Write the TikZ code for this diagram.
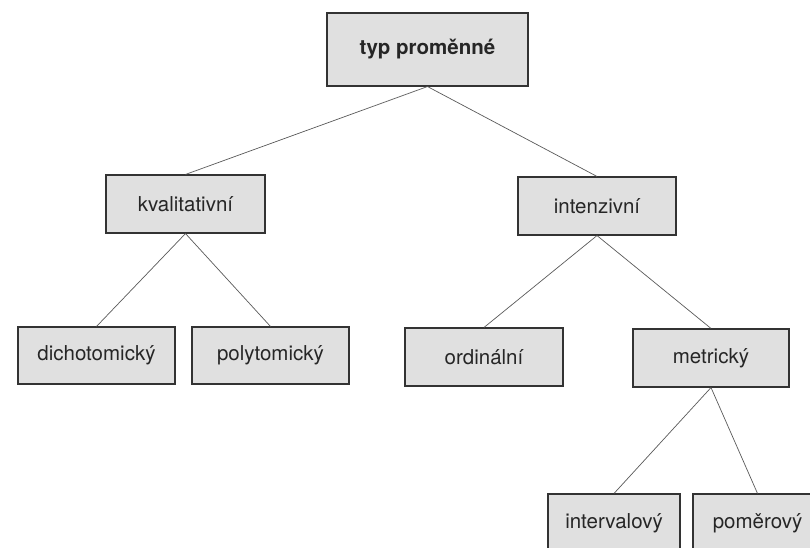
\documentclass[tikz,border=0pt]{standalone}
\usepackage{fontspec}
\setmainfont{TeX Gyre Heros}
\begin{document}
\begin{tikzpicture}[x=1pt,y=-1pt,
  box/.style={draw=black!80, line width=1.1pt, fill=black!12, text=black!85,
    inner sep=0pt, minimum height=58pt, font=\fontsize{20.5}{24}\selectfont},
  link/.style={draw=black!65, line width=0.7pt}]
\useasboundingbox (0,0) rectangle (810,547);
\node[box, minimum width=201pt, minimum height=73pt, font=\fontsize{20.5}{24}\selectfont\bfseries] (top) at (427.5,49.5) {typ proměnné};
\node[box, minimum width=159pt] (kval) at (185.5,204) {kvalitativní};
\node[box, minimum width=158pt] (inten) at (597,206) {intenzivní};
\node[box, minimum width=157pt, minimum height=57pt] (dich) at (96.5,355.5) {dichotomický};
\node[box, minimum width=157pt, minimum height=57pt] (poly) at (270.5,355.5) {polytomický};
\node[box, minimum width=158pt] (ord) at (484,357) {ordinální};
\node[box, minimum width=156pt] (metr) at (711,358) {metrický};
\node[box, minimum width=132pt] (interv) at (614,523) {intervalový};
\node[box, minimum width=129pt] (pomer) at (757.5,523) {poměrový};
\draw[link] (top.south) -- (kval.north);
\draw[link] (top.south) -- (inten.north);
\draw[link] (kval.south) -- (dich.north);
\draw[link] (kval.south) -- (poly.north);
\draw[link] (inten.south) -- (ord.north);
\draw[link] (inten.south) -- (metr.north);
\draw[link] (metr.south) -- (interv.north);
\draw[link] (metr.south) -- (pomer.north);
\end{tikzpicture}
\end{document}
